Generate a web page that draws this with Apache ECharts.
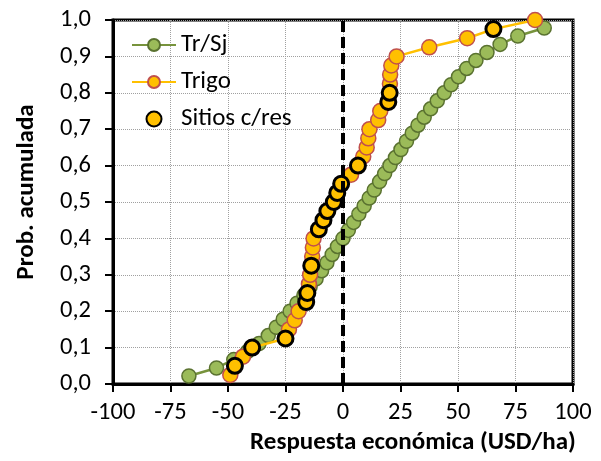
<!DOCTYPE html>
<html>
<head>
<meta charset="utf-8">
<script src="https://cdn.jsdelivr.net/npm/echarts@6/dist/echarts.min.js"></script>
<style>html,body{margin:0;padding:0;background:#fff;}#c{width:601px;height:461px;}</style>
</head>
<body>
<div id="c"></div>
<script>
// Tr/Sj cumulative distribution
var trsjX = [-67, -55, -47.5, -41.5, -36.5, -32.5, -29, -26, -23, -20, -17, -14.3, -11.7, -9.3, -7, -4.7, -2.4, 0, 2.3, 4.6, 6.9, 9.2, 11.4, 13.6, 15.9, 18.1, 20.4, 22.8, 25.2, 27.6, 30.1, 32.6, 35.3, 38.1, 41, 44, 47, 50.2, 53.8, 57.8, 62.6, 68.3, 76, 87.5];
var trsjY = [0.022, 0.044, 0.067, 0.089, 0.111, 0.133, 0.156, 0.178, 0.200, 0.222, 0.244, 0.267, 0.289, 0.311, 0.333, 0.356, 0.378, 0.400, 0.422, 0.444, 0.467, 0.489, 0.511, 0.533, 0.556, 0.578, 0.600, 0.622, 0.644, 0.667, 0.689, 0.711, 0.733, 0.756, 0.778, 0.800, 0.822, 0.844, 0.867, 0.889, 0.911, 0.933, 0.956, 0.978];
// Trigo cumulative distribution
var trigoX = [-49, -47, -43.5, -39.5, -25, -23.5, -21, -19.3, -16, -15.5, -14.8, -14.3, -13.8, -13.4, -13.1, -12.8, -10.5, -8.5, -6.8, -4, -2.5, -0.8, 3.5, 6.5, 8.8, 10.3, 11, 11.5, 15.3, 16.2, 19.7, 20.3, 20.4, 20.5, 21, 23.3, 37.5, 54, 65.4, 83.5];
var trigoY = [0.025, 0.05, 0.075, 0.1, 0.125, 0.15, 0.175, 0.2, 0.225, 0.25, 0.275, 0.3, 0.325, 0.35, 0.375, 0.4, 0.425, 0.45, 0.475, 0.5, 0.525, 0.55, 0.575, 0.6, 0.625, 0.65, 0.675, 0.7, 0.725, 0.75, 0.775, 0.8, 0.825, 0.85, 0.875, 0.9, 0.925, 0.95, 0.975, 1.0];
// Sitios c/res
var sitiosX = [-47, -39.5, -25, -16, -15.5, -13.8, -10.5, -8.5, -6.8, -4, -2.5, -0.8, 6.5, 19.7, 20.3, 65.4];
var sitiosY = [0.05, 0.1, 0.125, 0.225, 0.25, 0.325, 0.425, 0.45, 0.475, 0.5, 0.525, 0.55, 0.6, 0.775, 0.8, 0.975];
var xTicks = [-100, -75, -50, -25, 0, 25, 50, 75, 100];
var yTicks = ['0,0','0,1','0,2','0,3','0,4','0,5','0,6','0,7','0,8','0,9','1,0'];

function pairs(xs, ys) { return xs.map(function (x, i) { return [x, ys[i]]; }); }

var FONT = 'Carlito, Lato, sans-serif';
var FS = 24.5;
var chart = echarts.init(document.getElementById('c'), null, {renderer: 'canvas'});
chart.setOption({
  animation: false,
  backgroundColor: '#fff',
  textStyle: {fontFamily: FONT},
  grid: {left: 113, right: 28, top: 20, bottom: 77, outerBoundsMode: 'none', containLabel: false,
    show: true, borderColor: '#000', borderWidth: 3, backgroundColor: 'transparent'},
  legend: {
    orient: 'vertical', left: 126, top: 26, itemWidth: 44, itemHeight: 15, itemGap: 9,
    textStyle: {fontFamily: FONT, fontSize: 25, color: '#000', lineHeight: 28},
    data: ['Tr/Sj', 'Trigo', 'Sitios c/res']
  },
  xAxis: {
    type: 'value', min: -100, max: 100, interval: 25,
    name: 'Respuesta económica (USD/ha)', nameLocation: 'middle', nameGap: 43,
    nameTextStyle: {fontFamily: FONT, fontSize: 25, fontWeight: 'bold', color: '#000', padding: [0, 0, 0, 140]},
    axisLine: {onZero: false, lineStyle: {color: '#000', width: 3}},
    axisTick: {show: true, length: 8, inside: false, lineStyle: {color: '#000', width: 2}},
    axisLabel: {fontFamily: FONT, fontSize: FS, color: '#000', margin: 16,
      formatter: function (v) { var k = xTicks.indexOf(v); return k >= 0 ? String(xTicks[k]) : ''; }},
    splitLine: {show: true, lineStyle: {color: '#a0a0a0', width: 1, type: 'dotted'}}
  },
  yAxis: {
    type: 'value', min: 0, max: 1, interval: 0.1,
    name: 'Prob. acumulada', nameLocation: 'middle', nameGap: 74, nameRotate: 90,
    nameTextStyle: {fontFamily: FONT, fontSize: 25, fontWeight: 'bold', color: '#000', padding: [0, 0, 0, 20]},
    axisLine: {onZero: false, lineStyle: {color: '#000', width: 3}},
    axisTick: {show: true, length: 8, inside: false, lineStyle: {color: '#000', width: 2}},
    axisLabel: {fontFamily: FONT, fontSize: FS, color: '#000', margin: 22,
      formatter: function (v) { return yTicks[Math.round(v * 10)]; }},
    splitLine: {show: true, lineStyle: {color: '#a0a0a0', width: 1, type: 'dotted'}}
  },
  series: [
    {
      name: 'Tr/Sj', type: 'line', data: pairs(trsjX, trsjY),
      symbol: 'circle', symbolSize: 14, z: 2,
      lineStyle: {color: '#77933C', width: 2.5},
      itemStyle: {color: '#9BBB59', borderColor: '#5A7230', borderWidth: 1.5},
      markLine: {
        silent: true, symbol: ['none', 'none'], label: {show: false},
        lineStyle: {color: '#000', width: 4, type: [11, 5]},
        data: [[{coord: [0, 0]}, {coord: [0, 1]}]]
      }
    },
    {
      name: 'Trigo', type: 'line', data: pairs(trigoX, trigoY),
      symbol: 'circle', symbolSize: 15, z: 3,
      lineStyle: {color: '#FFC000', width: 2.5},
      itemStyle: {color: '#FFC000', borderColor: '#C0504D', borderWidth: 1.5}
    },
    {
      name: 'Sitios c/res', type: 'scatter', data: pairs(sitiosX, sitiosY),
      symbol: 'circle', symbolSize: 15, z: 4,
      itemStyle: {color: '#FFC000', borderColor: '#000', borderWidth: 3, opacity: 1}
    }
  ]
});
</script>
</body>
</html>
